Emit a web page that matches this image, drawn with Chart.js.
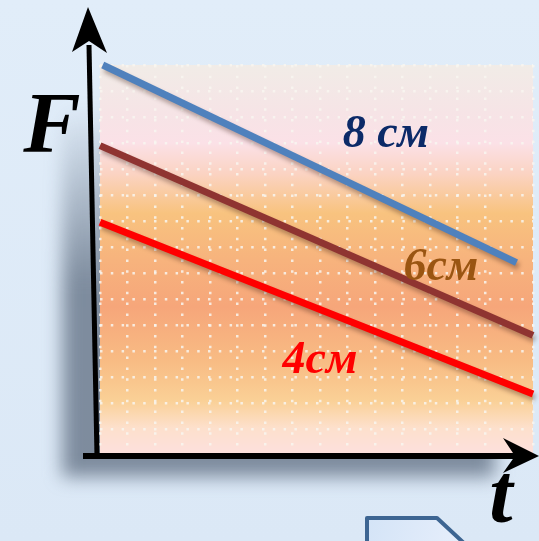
<!DOCTYPE html>
<html>
<head>
<meta charset="utf-8">
<script src="https://cdn.jsdelivr.net/npm/chart.js@4.4.1/dist/chart.umd.min.js"></script>
<style>
  html, body { margin: 0; padding: 0; background: #dde9f6; overflow: hidden; }
  canvas { display: block; }
</style>
</head>
<body>
<canvas id="forceChart" width="539" height="541"></canvas>
<script>
// значения в клетках сетки (t по горизонтали, F по вертикали)
const t8cm = [0.1, 15.15];
const F8cm = [15.0, 7.4];
const t6cm = [0, 15.75];
const F6cm = [11.9, 4.6];
const t4cm = [0, 15.75];
const F4cm = [8.95, 2.35];

const seriesNames = ['8 см', '6см', '4см'];
const seriesColors = ['#4f81bd', '#8f3431', '#ff0000'];
const labelColors = ['#0c2a68', '#9a5512', '#ff0000'];
// где стоят подписи, в тех же единицах
const labelT = [10.4, 12.4, 8.0];
const labelF = [12.3, 7.2, 3.6];

const pts = (ts, fs) => ts.map((t, i) => ({ x: t, y: fs[i] }));

const panelPlugin = {
  id: 'panel',
  beforeDraw(chart) {
    const { ctx, chartArea: a } = chart;
    ctx.save();
    const bg = ctx.createLinearGradient(0, 0, 0, chart.height);
    bg.addColorStop(0, '#e1edf9');
    bg.addColorStop(1, '#dbe8f6');
    ctx.fillStyle = bg;
    ctx.fillRect(0, 0, chart.width, chart.height);

    // тень под панелью, мягко пропадает кверху
    ctx.filter = 'blur(9px)';
    const sh = ctx.createLinearGradient(0, a.top + 40, 0, a.top + 220);
    sh.addColorStop(0, 'rgba(85,100,120,0)');
    sh.addColorStop(1, 'rgba(85,100,120,0.7)');
    ctx.fillStyle = sh;
    ctx.fillRect(a.left - 38, a.top + 40, a.right - a.left, a.bottom - a.top - 40 + 22);
    ctx.filter = 'none';

    const g = ctx.createLinearGradient(0, a.top, 0, a.bottom);
    g.addColorStop(0.00, '#f1ece7');
    g.addColorStop(0.12, '#f6e4e6');
    g.addColorStop(0.20, '#fbe1e7');
    g.addColorStop(0.28, '#fbd3c2');
    g.addColorStop(0.38, '#f8c37f');
    g.addColorStop(0.50, '#f7b37d');
    g.addColorStop(0.62, '#f6a67a');
    g.addColorStop(0.76, '#f8bc84');
    g.addColorStop(0.86, '#fad096');
    g.addColorStop(0.93, '#fde0cc');
    g.addColorStop(1.00, '#fde0de');
    ctx.fillStyle = g;
    ctx.fillRect(a.left, a.top, a.right - a.left, a.bottom - a.top);
    ctx.restore();

    // уголок фигуры внизу
    ctx.save();
    ctx.beginPath();
    ctx.moveTo(367, 545);
    ctx.lineTo(367, 518);
    ctx.lineTo(437, 518);
    ctx.lineTo(466, 545);
    const fg = ctx.createLinearGradient(367, 518, 460, 541);
    fg.addColorStop(0, '#d4e4f7');
    fg.addColorStop(1, '#e6eefb');
    ctx.fillStyle = fg;
    ctx.fill();
    ctx.lineWidth = 4;
    ctx.strokeStyle = '#3d6592';
    ctx.lineJoin = 'round';
    ctx.stroke();
    ctx.restore();
  },
  beforeDatasetsDraw(chart) {
    const ctx = chart.ctx;
    ctx.save();
    ctx.shadowColor = 'rgba(60,30,20,0.35)';
    ctx.shadowBlur = 4;
    ctx.shadowOffsetX = 2;
    ctx.shadowOffsetY = 4;
  },
  afterDatasetsDraw(chart) {
    chart.ctx.restore();
  },
  afterDraw(chart) {
    const { ctx, chartArea: a, scales } = chart;
    ctx.save();
    ctx.fillStyle = '#000';
    ctx.strokeStyle = '#000';

    // ось F
    ctx.lineWidth = 5;
    ctx.beginPath();
    ctx.moveTo(a.left - 3, a.bottom + 2);
    ctx.lineTo(a.left - 11, 45);
    ctx.stroke();
    ctx.beginPath();
    ctx.moveTo(88, 7);
    ctx.lineTo(107, 53);
    ctx.lineTo(89, 41);
    ctx.lineTo(72, 52);
    ctx.closePath();
    ctx.fill();

    // ось t
    ctx.lineWidth = 6;
    ctx.beginPath();
    ctx.moveTo(83, a.bottom + 1);
    ctx.lineTo(515, a.bottom + 1);
    ctx.stroke();
    ctx.beginPath();
    ctx.moveTo(539, a.bottom + 1);
    ctx.lineTo(503, 438);
    ctx.lineTo(515, a.bottom + 1);
    ctx.lineTo(503, 473);
    ctx.closePath();
    ctx.fill();

    ctx.textAlign = 'center';
    ctx.textBaseline = 'middle';
    ctx.font = 'bold italic 86px "Liberation Serif"';
    ctx.fillText('F', 52, 130);
    ctx.font = 'bold italic 84px "Liberation Serif"';
    ctx.fillText('t', 501, 500);

    ctx.font = 'bold italic 46px "Liberation Serif"';
    seriesNames.forEach((name, i) => {
      ctx.fillStyle = labelColors[i];
      ctx.fillText(name, scales.x.getPixelForValue(labelT[i]), scales.y.getPixelForValue(labelF[i]));
    });
    ctx.restore();
  }
};

const dotGrid = {
  color: 'rgba(248,246,240,0.85)',
  lineWidth: 2.5,
  drawTicks: false
};

new Chart(document.getElementById('forceChart'), {
  type: 'line',
  data: {
    datasets: [
      { label: seriesNames[0], data: pts(t8cm, F8cm), borderColor: seriesColors[0] },
      { label: seriesNames[1], data: pts(t6cm, F6cm), borderColor: seriesColors[1] },
      { label: seriesNames[2], data: pts(t4cm, F4cm), borderColor: seriesColors[2] }
    ]
  },
  options: {
    responsive: false,
    animation: false,
    clip: false,
    layout: { padding: { left: 100, top: 65, right: 6, bottom: 86 } },
    elements: {
      line: { borderWidth: 7, tension: 0, borderCapStyle: 'butt' },
      point: { radius: 0 }
    },
    scales: {
      x: {
        type: 'linear', min: 0, max: 15.75,
        ticks: { display: false, stepSize: 1 },
        border: { display: false, dash: [2.5, 8.3] },
        grid: dotGrid
      },
      y: {
        type: 'linear', min: 0, max: 15,
        ticks: { display: false, stepSize: 1 },
        border: { display: false, dash: [2.5, 8.3] },
        grid: dotGrid
      }
    },
    plugins: { legend: { display: false }, tooltip: { enabled: false } }
  },
  plugins: [panelPlugin]
});
</script>
</body>
</html>
